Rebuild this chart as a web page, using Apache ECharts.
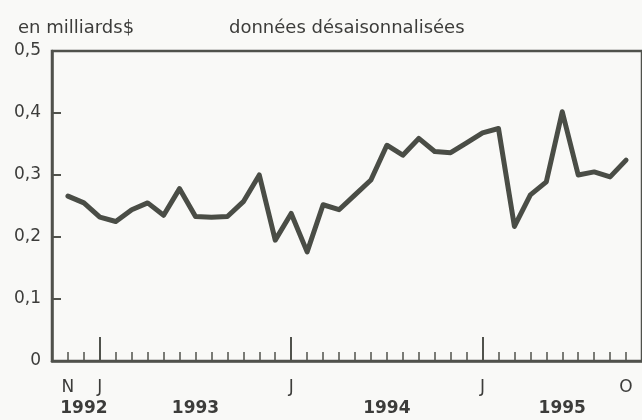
<!DOCTYPE html>
<html>
<head>
<meta charset="utf-8">
<script src="https://cdn.jsdelivr.net/npm/echarts@6/dist/echarts.min.js"></script>
<style>
html,body{margin:0;padding:0;background:#f9f9f7;}
#c{width:642px;height:420px;}
</style>
</head>
<body>
<div id="c"></div>
<script>
// Months: Nov 1992 .. Oct 1995
const months = [
 '1992-11','1992-12',
 '1993-01','1993-02','1993-03','1993-04','1993-05','1993-06','1993-07','1993-08','1993-09','1993-10','1993-11','1993-12',
 '1994-01','1994-02','1994-03','1994-04','1994-05','1994-06','1994-07','1994-08','1994-09','1994-10','1994-11','1994-12',
 '1995-01','1995-02','1995-03','1995-04','1995-05','1995-06','1995-07','1995-08','1995-09','1995-10'
];
// values, en milliards $
const values = [
 0.266,0.255,
 0.232,0.225,0.244,0.255,0.235,0.278,0.233,0.232,0.233,0.257,0.300,0.195,
 0.238,0.176,0.252,0.244,0.268,0.292,0.348,0.332,0.359,0.338,0.336,0.352,
 0.368,0.375,0.217,0.268,0.289,0.402,0.300,0.305,0.297,0.324
];
// tick labels (month letters) and year labels
const monthLabels = {'1992-11':'N','1993-01':'J','1994-01':'J','1995-01':'J','1995-10':'O'};
const yearLabels = {'1992-12':'1992','1993-07':'1993','1994-07':'1994','1995-06':'1995'};

const cats = ['pre'].concat(months).concat(['post']);
const data = [null].concat(values).concat([null]);

const axisColor = '#50524c';
const textColor = '#3c3c3a';
const font = '"DejaVu Sans", "Liberation Sans", sans-serif';

const chart = echarts.init(document.getElementById('c'));
chart.setOption({
  backgroundColor: '#f9f9f7',
  animation: false,
  title: [
    {text: 'en milliards$', left: 13, top: 13, textStyle:{fontFamily:font, fontSize:18, lineHeight:20, fontWeight:'normal', color:textColor}},
    {text: 'données désaisonnalisées', left: 224, top: 13, textStyle:{fontFamily:font, fontSize:18, lineHeight:20, fontWeight:'normal', color:textColor}}
  ],
  grid: {left: 52, right: -12, top: 51, bottom: 59, show: true, borderColor: axisColor, borderWidth: 2.5, backgroundColor:'transparent'},
  xAxis: [
    {
      type: 'category', data: cats, boundaryGap: false, position: 'bottom',
      axisLine: {show: true, lineStyle: {color: axisColor, width: 2.5}},
      axisTick: {show: true, inside: true, length: 9, lineStyle:{color: axisColor, width: 1.5},
        interval: function(i, v){ return v !== 'pre' && v !== 'post'; }},
      axisLabel: {show: true, margin: 18, color: textColor, fontFamily: font, fontSize: 17,
        interval: function(i, v){ return monthLabels[v] !== undefined; },
        formatter: function(v){ return monthLabels[v] || ''; }},
      splitLine: {show: false}
    },
    {
      type: 'category', data: cats, boundaryGap: false, position: 'bottom',
      axisLine: {show: false},
      axisTick: {show: true, inside: true, length: 24, lineStyle:{color: axisColor, width: 2},
        interval: function(i, v){ return /-01$/.test(v); }},
      axisLabel: {show: true, margin: 39, color: textColor, fontFamily: font, fontSize: 17, fontWeight: 'bold',
        interval: function(i, v){ return yearLabels[v] !== undefined; },
        formatter: function(v){ return yearLabels[v] || ''; }},
      splitLine: {show: false}
    }
  ],
  yAxis: {
    type: 'value', min: 0, max: 0.5, interval: 0.1,
    axisLine: {show: true, lineStyle: {color: axisColor, width: 2.5}},
    axisTick: {show: true, inside: true, length: 9, lineStyle:{color: axisColor, width: 2}},
    axisLabel: {margin: 11, color: textColor, fontFamily: font, fontSize: 17,
      formatter: function(v){ return String(+v.toFixed(1)).replace('.', ','); }},
    splitLine: {show: false}
  },
  series: [{
    type: 'line', xAxisIndex: 0, data: data, symbol: 'none', smooth: false,
    connectNulls: false,
    lineStyle: {color: '#4a4d46', width: 5, join: 'round', cap: 'round'}
  }]
});
</script>
</body>
</html>
